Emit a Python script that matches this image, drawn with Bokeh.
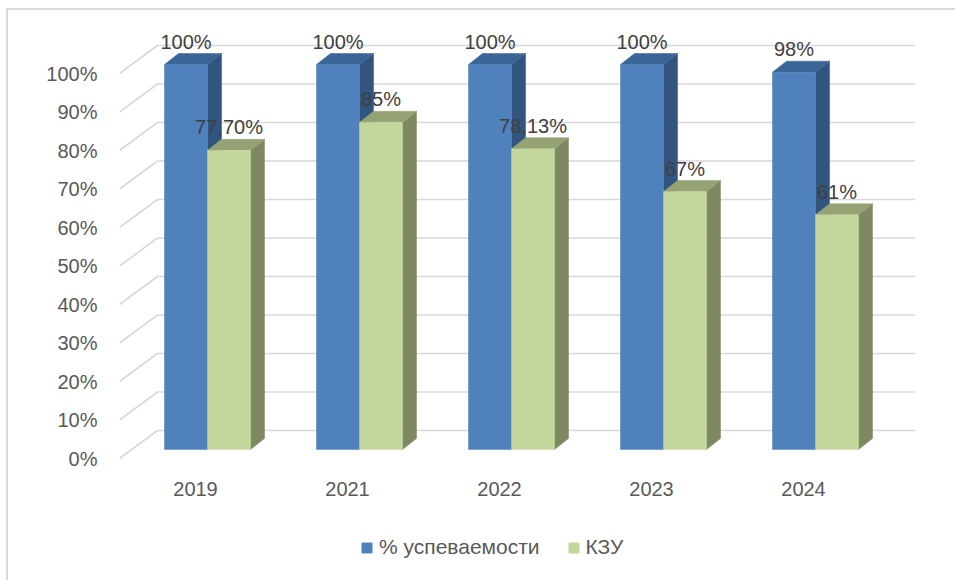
from bokeh.plotting import figure
from bokeh.models import Range1d, FixedTicker, PrintfTickFormatter, Legend, LegendItem, InlineStyleSheet
from bokeh.embed import file_html
from bokeh.resources import INLINE
from bokeh.core.properties import value

# ---- data ----
categories = ["2019", "2021", "2022", "2023", "2024"]
series_names = ["% успеваемости", "КЗУ"]
success = [100, 100, 100, 100, 98]
kzu = [77.70, 85, 78.13, 67, 61]
success_labels = ["100%", "100%", "100%", "100%", "98%"]
kzu_labels = ["77,70%", "85%", "78,13%", "67%", "61%"]
y_ticks = [0, 10, 20, 30, 40, 50, 60, 70, 80, 90, 100]

# ---- geometry / style constants (pixel based oblique projection) ----
PX_X = 152.0   # px per category
PX_Y = 3.85    # px per percent
WALL_DX, WALL_DY = 38 / PX_X, 28 / PX_Y
BAR_DX, BAR_DY = 12 / PX_X, 9 / PX_Y
DEP_DX, DEP_DY = 14 / PX_X, 11 / PX_Y
BAR_W = 43 / PX_X
X0 = -0.5
X1 = X0 + 796 / PX_X
Y1 = 438 / PX_Y
Y0 = -114 / PX_Y

FONT = "Liberation Sans"
BLUE = dict(front="#4f81bd", top="#3c6597", side="#32557f")
GREEN = dict(front="#c3d69b", top="#94a274", side="#7e8962")

p = figure(width=947, height=572, x_range=Range1d(X0, X1), y_range=Range1d(Y0, Y1),
           output_backend="svg", toolbar_location=None, x_axis_location=None,
           min_border_left=119, min_border_right=32, min_border_top=20, min_border_bottom=0)
p.xgrid.visible = False
p.ygrid.visible = False
p.outline_line_color = None
p.background_fill_color = "white"
p.border_fill_color = "white"
p.stylesheets = [InlineStyleSheet(css=(
    ":host { position: relative; }"
    ":host::after { content: ''; position: absolute; left: 6px; top: 8px; right: -20px; bottom: -20px;"
    " border-left: 2px solid #d9d9d9; border-top: 2px solid #d9d9d9; pointer-events: none; }"))]

# y axis
p.yaxis.ticker = FixedTicker(ticks=y_ticks)
p.yaxis.formatter = PrintfTickFormatter(format="%d%%")
ax = p.yaxis[0]
ax.axis_line_color = None
ax.major_tick_line_color = None
ax.minor_tick_line_color = None
ax.major_tick_out = 0
ax.major_tick_in = 0
ax.major_label_text_font = FONT
ax.major_label_text_font_size = "20px"
ax.major_label_text_color = "#595959"
ax.major_label_standoff = 22

# back wall gridlines + side diagonals
gx, gy = [], []
for t in y_ticks:
    gx.append([X0, X0 + WALL_DX, X1])
    gy.append([t, t + WALL_DY, t + WALL_DY])
p.multi_line(gx, gy, line_color="#d9d9d9", line_width=1.6)


def draw_series(vals, offset, colors):
    lefts = [i + offset for i in range(len(vals))]
    rights = [l + BAR_W for l in lefts]
    bottoms = [BAR_DY] * len(vals)
    tops = [BAR_DY + v for v in vals]
    side_xs = [[r, r + DEP_DX, r + DEP_DX, r] for r in rights]
    side_ys = [[b, b + DEP_DY, t + DEP_DY, t] for b, t in zip(bottoms, tops)]
    top_xs = [[l, r, r + DEP_DX, l + DEP_DX] for l, r in zip(lefts, rights)]
    top_ys = [[t, t, t + DEP_DY, t + DEP_DY] for t in tops]
    p.patches(side_xs, side_ys, fill_color=colors["side"], line_color=colors["side"], line_width=0.5)
    p.patches(top_xs, top_ys, fill_color=colors["top"], line_color=colors["top"], line_width=0.5)
    front = p.quad(left=lefts, right=rights, bottom=bottoms, top=tops,
                   fill_color=colors["front"], line_color=colors["front"], line_width=0.5)
    centers = [(l + r) / 2 for l, r in zip(lefts, rights)]
    label_y = [t + DEP_DY for t in tops]
    return front, centers, label_y


blue_r, bc, by = draw_series(success, BAR_DX - BAR_W, BLUE)
green_r, gc, gyl = draw_series(kzu, BAR_DX, GREEN)

for cx, cy, labs in ((bc, by, success_labels), (gc, gyl, kzu_labels)):
    p.text(x=cx, y=cy, text=labs, text_align="center", text_baseline="alphabetic",
           y_offset=-12, text_font=value(FONT), text_font_size=value("20px"),
           text_color="#404040")

# category labels under the floor
p.text(x=list(range(len(categories))), y=[0] * len(categories), text=categories,
       text_align="center", text_baseline="alphabetic", y_offset=30,
       text_font=value(FONT), text_font_size=value("20px"), text_color="#595959")

legend = Legend(items=[LegendItem(label=series_names[0], renderers=[blue_r]),
                       LegendItem(label=series_names[1], renderers=[green_r])],
                orientation="horizontal", location=(241, 13), padding=0, margin=0,
                border_line_color=None, background_fill_alpha=0,
                glyph_width=13, glyph_height=13, label_standoff=6, spacing=27,
                label_text_font=FONT, label_text_font_size="21px",
                label_text_color="#595959")
p.add_layout(legend)

open("out.html", "w").write(file_html(p, INLINE))
